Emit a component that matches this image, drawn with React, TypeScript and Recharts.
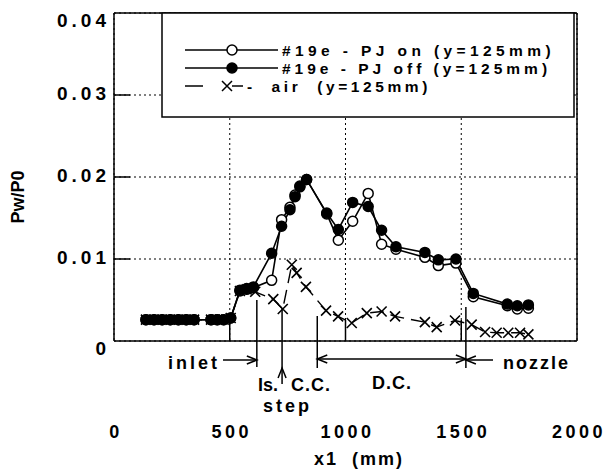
import * as React from 'react';
import { LineChart, Line, XAxis, YAxis, CartesianGrid } from 'recharts';

// x1 positions (mm) and Pw/P0 values
const pjX = [138, 173, 208, 243, 278, 312, 346, 419, 446, 474, 504, 544, 573, 602, 681, 724, 760, 782, 803, 832, 919, 969, 1031, 1098, 1156, 1218, 1343, 1401, 1477, 1552, 1699, 1742, 1790];
const pjOff = [0.0026, 0.0026, 0.0026, 0.0026, 0.0026, 0.0026, 0.0026, 0.0026, 0.0026, 0.0026, 0.0028, 0.0062, 0.0064, 0.0066, 0.0107, 0.014, 0.016, 0.0176, 0.0188, 0.0197, 0.0156, 0.0136, 0.0169, 0.0164, 0.0135, 0.0115, 0.0108, 0.0099, 0.01, 0.0058, 0.0045, 0.0043, 0.0044];
const pjOn = [0.0026, 0.0026, 0.0026, 0.0026, 0.0026, 0.0026, 0.0026, 0.0026, 0.0026, 0.0026, 0.0028, 0.0061, 0.0063, 0.0065, 0.0074, 0.0148, 0.0163, 0.0178, 0.0189, 0.0197, 0.0155, 0.0123, 0.0146, 0.018, 0.0118, 0.0112, 0.0102, 0.0092, 0.0095, 0.0054, 0.0043, 0.0039, 0.004];
const airX = [138, 173, 208, 243, 278, 312, 346, 419, 446, 474, 504, 544, 573, 610, 688, 729, 768, 789, 829, 916, 968, 1027, 1092, 1156, 1214, 1343, 1394, 1473, 1545, 1603, 1653, 1703, 1754, 1790];
const airY = [0.0026, 0.0026, 0.0026, 0.0026, 0.0026, 0.0026, 0.0026, 0.0026, 0.0026, 0.0026, 0.0028, 0.0061, 0.0063, 0.006, 0.0051, 0.0039, 0.0093, 0.0083, 0.0066, 0.0037, 0.003, 0.0022, 0.0034, 0.0036, 0.003, 0.0023, 0.0017, 0.0025, 0.002, 0.0011, 0.001, 0.001, 0.001, 0.0008];

const xTicks = [0, 500, 1000, 1500, 2000];
const yTicks = [0, 0.01, 0.02, 0.03, 0.04];

// section boundaries along x1 (mm): inlet end, step, C.C./D.C., D.C./nozzle
const bounds = [617, 726, 878, 1520];

const W = 610;
const H = 471;
const margin = { top: 12, right: 32, left: 54, bottom: 5 };
const plotLeft = 114;
const plotRight = 577;
const px = (v: number) => plotLeft + (v / 2000) * (plotRight - plotLeft);

const font = "'Liberation Sans', Arial, Helvetica, sans-serif";
const txt: React.CSSProperties = { fontFamily: font, fontWeight: 700, fontSize: 18, fill: '#000' };
const legTxt: React.CSSProperties = { ...txt, fontSize: 15.5, whiteSpace: 'pre' };

const pjOnData = pjX.map((x, i) => ({ x, v: pjOn[i] }));
const pjOffData = pjX.map((x, i) => ({ x, v: pjOff[i] }));
const airData = airX.map((x, i) => ({ x, v: airY[i] }));

const Cross = (p: any) => {
  const { cx, cy, index } = p;
  if (cx == null || cy == null) return <g key={index} />;
  const s = 5;
  return (
    <path
      key={index}
      d={`M${cx - s},${cy - s}L${cx + s},${cy + s}M${cx - s},${cy + s}L${cx + s},${cy - s}`}
      stroke="#000"
      strokeWidth={1.6}
      fill="none"
    />
  );
};

const XTick = (p: any) => {
  const { x, y, payload } = p;
  const v = payload.value;
  return (
    <g>
      {v > 0 && v < 2000 && <line x1={x} x2={x} y1={y} y2={y - 21} stroke="#000" strokeWidth={1.5} />}
      <text x={x + 2} y={y + 97} textAnchor="middle" style={{ ...txt, letterSpacing: 3.5 }}>
        {v}
      </text>
    </g>
  );
};

const YTick = (p: any) => {
  const { x, y, payload } = p;
  const v = payload.value;
  const label = v === 0 ? '0' : v.toFixed(2);
  const dy = v === 0 || v === 0.04 ? 14 : 5;
  return (
    <g>
      {v > 0 && v < 0.04 && <line x1={x} x2={x + 16} y1={y} y2={y} stroke="#000" strokeWidth={1.5} />}
      <text x={x - 4} y={y + dy} textAnchor="end" style={{ ...txt, fontSize: 19, letterSpacing: 4 }}>
        {label}
      </text>
    </g>
  );
};

const RightTick = (p: any) => {
  const { x, y, payload } = p;
  const v = payload.value;
  if (v <= 0 || v >= 0.04) return <g />;
  return <line x1={x} x2={x - 16} y1={y} y2={y} stroke="#000" strokeWidth={1.5} />;
};

const arrowHead = (x: number, y: number, dir: 'l' | 'r' | 'u') => {
  const L = 10;
  const S = 4;
  if (dir === 'r') return `M${x - L},${y - S}L${x},${y}L${x - L},${y + S}`;
  if (dir === 'l') return `M${x + L},${y - S}L${x},${y}L${x + L},${y + S}`;
  return `M${x - S},${y + L}L${x},${y}L${x + S},${y + L}`;
};

const Overlay = () => {
  const [bInlet, bStep, bDc, bNoz] = bounds.map(px);
  const ln = { stroke: '#000', strokeWidth: 1.5, fill: 'none' };
  return (
    <svg width={W} height={H} style={{ position: 'absolute', left: 0, top: 0, pointerEvents: 'none' }}>
      {/* legend */}
      <rect x={162} y={13} width={412} height={104} fill="#fff" stroke="#000" strokeWidth={1.5} />
      <line x1={185} x2={278} y1={50} y2={50} {...ln} />
      <circle cx={232} cy={50} r={5} fill="#fff" stroke="#000" strokeWidth={1.5} />
      <text x={282} y={55.5} style={{ ...legTxt, letterSpacing: 4.4 }}>#19e - PJ on (y=125mm)</text>
      <line x1={185} x2={278} y1={68} y2={68} {...ln} />
      <circle cx={232} cy={68} r={5} fill="#000" stroke="#000" strokeWidth={1.5} />
      <text x={282} y={73.5} style={{ ...legTxt, letterSpacing: 4 }}>#19e - PJ off (y=125mm)</text>
      <line x1={185} x2={203} y1={86} y2={86} {...ln} />
      <line x1={232} x2={243} y1={86} y2={86} {...ln} />
      <path d="M222,81L232,91M222,91L232,81" {...ln} />
      <text x={247} y={91.5} style={{ ...legTxt, letterSpacing: 3.6 }}>{'-  air  (y=125mm)'}</text>

      {/* section markers below the axis */}
      <line x1={bInlet} x2={bInlet} y1={300} y2={367} {...ln} />
      <line x1={bStep} x2={bStep} y1={308} y2={384} {...ln} />
      <line x1={bDc} x2={bDc} y1={316} y2={368} {...ln} />
      <line x1={bNoz} x2={bNoz} y1={307} y2={368} {...ln} />
      <line x1={223} x2={bInlet} y1={360} y2={360} {...ln} />
      <path d={arrowHead(bInlet, 360, 'r')} {...ln} />
      <line x1={bDc} x2={bNoz} y1={359} y2={359} {...ln} />
      <path d={arrowHead(bDc, 359, 'l')} {...ln} />
      <path d={arrowHead(bNoz, 359, 'r')} {...ln} />
      <line x1={bNoz} x2={493} y1={360} y2={360} {...ln} />
      <path d={arrowHead(bNoz, 360, 'l')} {...ln} />
      <path d={arrowHead(bStep, 368, 'u')} {...ln} />

      <text x={168} y={369} style={{ ...txt, letterSpacing: 3 }}>inlet</text>
      <text x={503} y={369} style={{ ...txt, letterSpacing: 2 }}>nozzle</text>
      <text x={258} y={391} style={{ ...txt, letterSpacing: 0 }}>Is.</text>
      <text x={291} y={391} style={{ ...txt, letterSpacing: 1 }}>C.C.</text>
      <text x={372} y={389} style={{ ...txt, letterSpacing: 1 }}>D.C.</text>
      <text x={263} y={412} style={{ ...txt, letterSpacing: 3 }}>step</text>

      {/* axis titles */}
      <text x={359} y={465} textAnchor="middle" style={{ ...txt, letterSpacing: 2, whiteSpace: 'pre' }}>{'x1  (mm)'}</text>
      <text
        x={24}
        y={197}
        textAnchor="middle"
        transform="rotate(-90 24 197)"
        style={{ ...txt, fontSize: 18 }}
      >
        Pw/P0
      </text>
    </svg>
  );
};

export default function App() {
  return (
    <div style={{ position: 'absolute', left: 0, top: 0, width: W, height: H, background: '#fff' }}>
      <LineChart width={W} height={H} margin={margin}>
        <CartesianGrid stroke="#000" strokeDasharray="2 3" strokeWidth={1} />
        <XAxis
          dataKey="x"
          type="number"
          domain={[0, 2000]}
          ticks={xTicks}
          height={125}
          tickLine={false}
          tickSize={0}
          tickMargin={0}
          axisLine={{ stroke: '#000', strokeWidth: 1.5 }}
          tick={<XTick />}
          allowDataOverflow
        />
        <XAxis
          xAxisId="top"
          dataKey="x"
          type="number"
          orientation="top"
          domain={[0, 2000]}
          height={1}
          tick={false}
          tickLine={false}
          axisLine={{ stroke: '#000', strokeWidth: 1.5 }}
        />
        <YAxis
          type="number"
          domain={[0, 0.04]}
          ticks={yTicks}
          width={60}
          tickLine={false}
          tickSize={0}
          tickMargin={0}
          axisLine={{ stroke: '#000', strokeWidth: 1.5 }}
          tick={<YTick />}
          allowDataOverflow
        />
        <YAxis
          yAxisId="right"
          type="number"
          orientation="right"
          domain={[0, 0.04]}
          ticks={yTicks}
          width={1}
          tickLine={false}
          tickSize={0}
          tickMargin={0}
          axisLine={{ stroke: '#000', strokeWidth: 1.5 }}
          tick={<RightTick />}
        />
        <Line
          data={airData}
          dataKey="v"
          stroke="#000"
          strokeWidth={1.4}
          strokeDasharray="14 7"
          dot={Cross}
          activeDot={false}
          isAnimationActive={false}
        />
        <Line
          data={pjOnData}
          dataKey="v"
          stroke="#000"
          strokeWidth={1.6}
          dot={{ r: 5, fill: '#fff', stroke: '#000', strokeWidth: 1.5 }}
          activeDot={false}
          isAnimationActive={false}
        />
        <Line
          data={pjOffData}
          dataKey="v"
          stroke="#000"
          strokeWidth={1.6}
          dot={{ r: 5, fill: '#000', stroke: '#000', strokeWidth: 1.5 }}
          activeDot={false}
          isAnimationActive={false}
        />
      </LineChart>
      <Overlay />
    </div>
  );
}
